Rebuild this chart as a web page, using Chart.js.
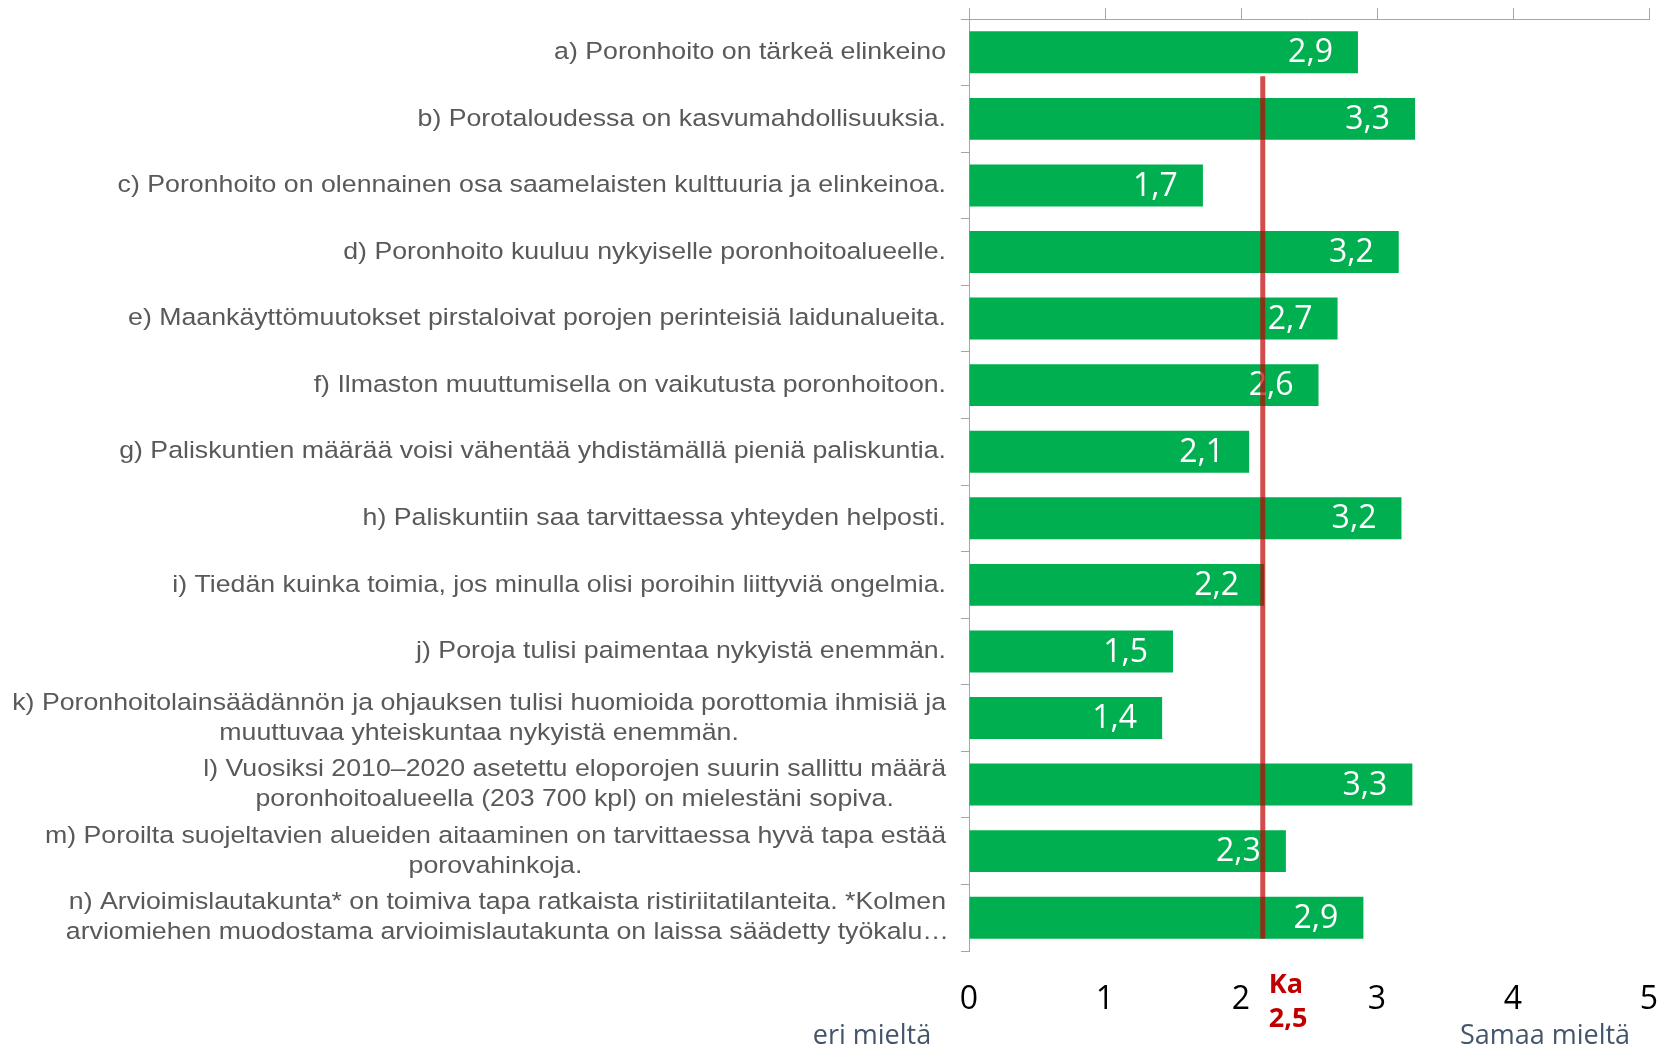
<!DOCTYPE html>
<html>
<head>
<meta charset="utf-8">
<script src="https://cdn.jsdelivr.net/npm/chart.js@4.4.1/dist/chart.umd.min.js"></script>
<style>
html,body{margin:0;padding:0;background:#ffffff;}
#wrap{width:1668px;height:1048px;position:relative;}
</style>
</head>
<body>
<div id="wrap"><canvas id="c" width="1668" height="1048"></canvas></div>
<script>
// ---- data ----
const categories = [
  ['a) Poronhoito on tärkeä elinkeino'],
  ['b) Porotaloudessa on kasvumahdollisuuksia.'],
  ['c) Poronhoito on olennainen osa saamelaisten kulttuuria ja elinkeinoa.'],
  ['d) Poronhoito kuuluu nykyiselle poronhoitoalueelle.'],
  ['e) Maankäyttömuutokset pirstaloivat porojen perinteisiä laidunalueita.'],
  ['f) Ilmaston muuttumisella on vaikutusta poronhoitoon.'],
  ['g) Paliskuntien määrää voisi vähentää yhdistämällä pieniä paliskuntia.'],
  ['h) Paliskuntiin saa tarvittaessa yhteyden helposti.'],
  ['i) Tiedän kuinka toimia, jos minulla olisi poroihin liittyviä ongelmia.'],
  ['j) Poroja tulisi paimentaa nykyistä enemmän.'],
  ['k) Poronhoitolainsäädännön ja ohjauksen tulisi huomioida porottomia ihmisiä ja', 'muuttuvaa yhteiskuntaa nykyistä enemmän.'],
  ['l) Vuosiksi 2010–2020 asetettu eloporojen suurin sallittu määrä', 'poronhoitoalueella (203 700 kpl) on mielestäni sopiva.'],
  ['m) Poroilta suojeltavien alueiden aitaaminen on tarvittaessa hyvä tapa estää', 'porovahinkoja.'],
  ['n) Arvioimislautakunta* on toimiva tapa ratkaista ristiriitatilanteita. *Kolmen', 'arviomiehen muodostama arvioimislautakunta on laissa säädetty työkalu…']
];
const values = [2.86, 3.28, 1.72, 3.16, 2.71, 2.57, 2.06, 3.18, 2.17, 1.50, 1.42, 3.26, 2.33, 2.90];
const xTickValues = [0, 1, 2, 3, 4, 5];
const meanLinePosition = 2.16;
const meanLabel = ['Ka', '2,5'];
const leftEndLabel = 'eri mieltä';
const rightEndLabel = 'Samaa mieltä';

const fmt = v => v.toFixed(1).replace('.', ',');

const overlay = {
  id: 'overlay',
  afterDatasetsDraw(chart) {
    const ctx = chart.ctx;
    const xs = chart.scales.x;
    const ys = chart.scales.y;
    const meta = chart.getDatasetMeta(0);

    // data labels
    ctx.save();
    ctx.font = '32px "Open Sans"';
    ctx.fillStyle = '#ffffff';
    ctx.textAlign = 'right';
    ctx.textBaseline = 'middle';
    meta.data.forEach((el, i) => {
      ctx.fillText(fmt(values[i]), el.x - 25, el.y + 1);
    });
    ctx.restore();

    // mean line
    const first = meta.data[0], last = meta.data[meta.data.length - 1];
    const lx = xs.getPixelForValue(meanLinePosition);
    ctx.save();
    ctx.strokeStyle = 'rgba(192,0,0,0.7)';
    ctx.lineWidth = 5;
    ctx.beginPath();
    ctx.moveTo(lx, first.y + first.height / 2 + 3);
    ctx.lineTo(lx, last.y + last.height / 2);
    ctx.stroke();
    ctx.restore();

    // mean label
    ctx.save();
    ctx.font = 'bold 27px "Open Sans"';
    ctx.fillStyle = '#C00000';
    ctx.textAlign = 'left';
    ctx.textBaseline = 'middle';
    ctx.fillText(meanLabel[0], lx + 6, chart.chartArea.bottom + 34);
    ctx.fillText(meanLabel[1], lx + 6, chart.chartArea.bottom + 68);
    ctx.restore();

    // end labels
    ctx.save();
    ctx.font = '27px "Open Sans"';
    ctx.fillStyle = '#44546A';
    ctx.textAlign = 'center';
    ctx.textBaseline = 'middle';
    ctx.fillText(leftEndLabel, xs.left - 97, chart.chartArea.bottom + 85);
    ctx.fillText(rightEndLabel, xs.right - 104, chart.chartArea.bottom + 85);
    ctx.restore();

    // category labels
    ctx.save();
    const sx = 1.09;
    ctx.font = '24.5px "Liberation Sans"';
    ctx.fillStyle = '#595959';
    ctx.textAlign = 'center';
    ctx.textBaseline = 'middle';
    const R = ys.right - 23;
    const lineH = 30;
    chart.data.labels.forEach((lines, i) => {
      const cy = ys.getPixelForValue(i);
      const w1 = ctx.measureText(lines[0]).width * sx;
      const cx = R - w1 / 2;
      const y0 = cy - (lines.length - 1) * lineH / 2;
      lines.forEach((t, j) => {
        ctx.save();
        ctx.translate(cx, y0 + j * lineH);
        ctx.scale(sx, 1);
        ctx.fillText(t, 0, 0);
        ctx.restore();
      });
    });
    ctx.restore();
  }
};

function draw() {
  new Chart(document.getElementById('c'), {
    type: 'bar',
    data: {
      labels: categories,
      datasets: [{
        data: values,
        backgroundColor: '#00B050',
        borderWidth: 0,
        barPercentage: 0.63,
        categoryPercentage: 1,
        xAxisID: 'x',
        yAxisID: 'y'
      }]
    },
    options: {
      indexAxis: 'y',
      responsive: false,
      animation: false,
      layout: { padding: { left: 0, right: 19, top: 0, bottom: 0 } },
      plugins: { legend: { display: false }, tooltip: { enabled: false } },
      scales: {
        x: {
          type: 'linear', position: 'top', min: 0, max: 5,
          ticks: { display: false, stepSize: 1 },
          grid: { display: true, drawOnChartArea: false, drawTicks: true, tickLength: 11, color: '#A6A6A6', lineWidth: 1 },
          border: { display: true, color: '#A6A6A6', width: 1 },
          afterFit(s) { s.height = 19; s.paddingLeft = 0; s.paddingRight = 0; }
        },
        x2: {
          type: 'linear', position: 'bottom', min: 0, max: 5,
          ticks: {
            stepSize: 1, padding: 30, color: '#000000',
            font: { family: 'Open Sans', size: 32 },
            callback: v => xTickValues.includes(v) ? String(v) : ''
          },
          grid: { display: false, drawTicks: false },
          border: { display: false },
          afterFit(s) { s.height = 97; s.paddingLeft = 0; s.paddingRight = 0; }
        },
        y: {
          type: 'category', position: 'left',
          ticks: { display: false },
          grid: { display: true, offset: true, drawOnChartArea: false, tickLength: 8, color: '#A6A6A6' },
          border: { display: true, color: '#A6A6A6', width: 1 },
          afterFit(s) { s.width = 969; s.paddingTop = 0; s.paddingBottom = 0; }
        }
      }
    },
    plugins: [overlay]
  });
}
if (document.fonts && document.fonts.ready) {
  document.fonts.load('32px "Open Sans"').then(() => document.fonts.load('24px "Liberation Sans"')).then(draw, draw);
} else { draw(); }
</script>
</body>
</html>
